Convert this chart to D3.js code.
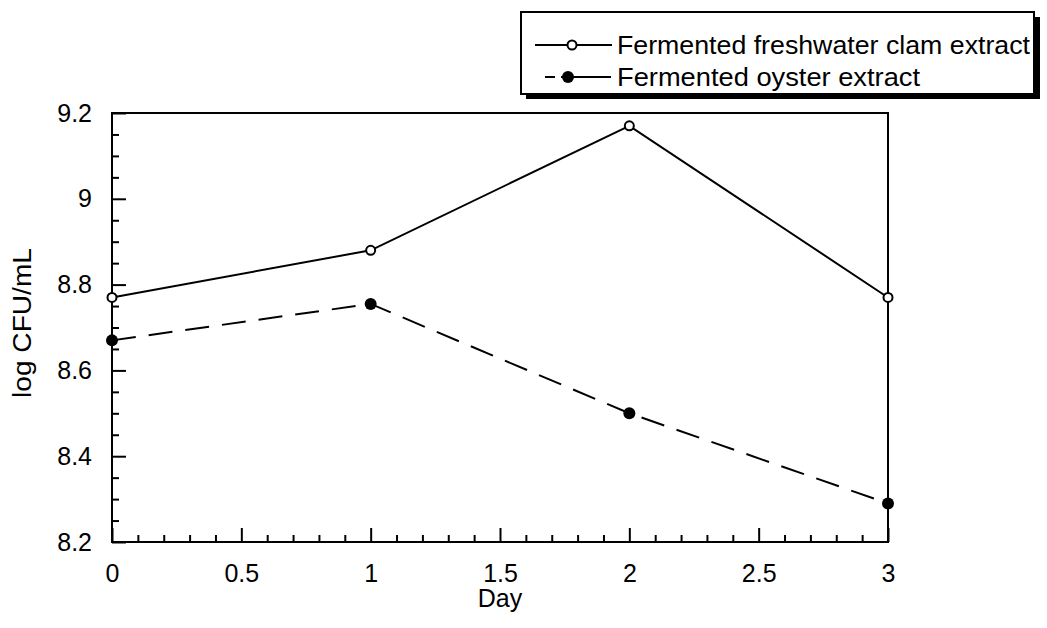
<!DOCTYPE html>
<html><head><meta charset="utf-8">
<script src="https://cdn.jsdelivr.net/npm/d3@7"></script>
<style>
html,body{margin:0;padding:0;background:#fff;}
text{font-family:"Liberation Sans",Arial,sans-serif;fill:#000;}
</style></head>
<body>
<svg id="chart" width="1047" height="628"></svg>
<script>
const days = [0, 1, 2, 3];
const clamValues = [8.77, 8.88, 9.17, 8.77];
const oysterValues = [8.67, 8.755, 8.50, 8.29];
const seriesNames = ["Fermented freshwater clam extract", "Fermented oyster extract"];
const xTicks = [0, 0.5, 1, 1.5, 2, 2.5, 3];
const xTickLabels = ["0", "0.5", "1", "1.5", "2", "2.5", "3"];
const yTicks = [8.2, 8.4, 8.6, 8.8, 9, 9.2];
const yTickLabels = ["8.2", "8.4", "8.6", "8.8", "9", "9.2"];
const xTitle = "Day";
const yTitle = "log CFU/mL";

const svg = d3.select("#chart");
const L = 112, R = 888, T = 113, B = 542;
const x = d3.scaleLinear().domain([0, 3]).range([L, R]);
const y = d3.scaleLinear().domain([8.2, 9.2]).range([B, T]);
const FS = 25;

// frame
svg.append("rect").attr("x", L).attr("y", T).attr("width", R - L).attr("height", B - T)
  .attr("fill", "none").attr("stroke", "#000").attr("stroke-width", 2);

// minor ticks
const xMinor = d3.range(0, 3.0001, 0.1).filter(v => Math.abs(v*2 - Math.round(v*2)) > 1e-6);
svg.append("g").attr("transform", `translate(0,${B})`)
  .call(d3.axisBottom(x).tickValues(xMinor).tickSize(-7).tickFormat(""))
  .call(g => g.select(".domain").remove())
  .selectAll("line").attr("stroke-width", 2);
const yMinor = d3.range(8.2, 9.2001, 0.05).filter(v => Math.abs(v*5 - Math.round(v*5)) > 1e-6);
svg.append("g").attr("transform", `translate(${L},0)`)
  .call(d3.axisLeft(y).tickValues(yMinor).tickSize(-7).tickFormat(""))
  .call(g => g.select(".domain").remove())
  .selectAll("line").attr("stroke-width", 2);

// major ticks
const xAxis = svg.append("g").attr("transform", `translate(0,${B})`)
  .call(d3.axisBottom(x).tickValues(xTicks).tickSize(-14).tickPadding(22)
    .tickFormat((d, i) => xTickLabels[i]));
xAxis.select(".domain").remove();
xAxis.selectAll("line").attr("stroke-width", 2);
xAxis.selectAll("text").attr("font-size", FS).attr("font-family", "Liberation Sans, Arial, sans-serif");

const yAxis = svg.append("g").attr("transform", `translate(${L},0)`)
  .call(d3.axisLeft(y).tickValues(yTicks).tickSize(-14).tickPadding(20)
    .tickFormat((d, i) => yTickLabels[i]));
yAxis.select(".domain").remove();
yAxis.selectAll("line").attr("stroke-width", 2);
yAxis.selectAll("text").attr("font-size", FS).attr("font-family", "Liberation Sans, Arial, sans-serif");

// titles
svg.append("text").attr("x", x(1.5)).attr("y", 607).attr("text-anchor", "middle")
  .attr("font-size", FS).text(xTitle);
svg.append("text").attr("transform", `translate(31,323) rotate(-90)`)
  .attr("text-anchor", "middle").attr("font-size", FS)
  .attr("textLength", 150).attr("lengthAdjust", "spacingAndGlyphs").text(yTitle);

// lines
const line = d3.line().x((d, i) => x(days[i])).y(d => y(d));
svg.append("path").datum(clamValues).attr("d", line)
  .attr("fill", "none").attr("stroke", "#000").attr("stroke-width", 2);
svg.append("path").datum(oysterValues).attr("d", line)
  .attr("fill", "none").attr("stroke", "#000").attr("stroke-width", 2)
  .attr("stroke-dasharray", "24,13");

svg.selectAll(".clamPt").data(clamValues).join("circle")
  .attr("cx", (d, i) => x(days[i])).attr("cy", d => y(d)).attr("r", 4.5)
  .attr("fill", "#fff").attr("stroke", "#000").attr("stroke-width", 2);
svg.selectAll(".oysPt").data(oysterValues).join("circle")
  .attr("cx", (d, i) => x(days[i])).attr("cy", d => y(d)).attr("r", 6)
  .attr("fill", "#000");

// legend
const lg = svg.append("g");
lg.append("rect").attr("x", 526).attr("y", 17).attr("width", 514).attr("height", 82).attr("fill", "#000");
lg.append("rect").attr("x", 521).attr("y", 12).attr("width", 513).attr("height", 82)
  .attr("fill", "#fff").attr("stroke", "#000").attr("stroke-width", 2);
const rows = [45, 77];
const textLens = [413, 303];
lg.append("line").attr("x1", 535).attr("x2", 612).attr("y1", rows[0]).attr("y2", rows[0])
  .attr("stroke", "#000").attr("stroke-width", 2);
lg.append("circle").attr("cx", 572).attr("cy", rows[0]).attr("r", 4.5)
  .attr("fill", "#fff").attr("stroke", "#000").attr("stroke-width", 2);
lg.append("line").attr("x1", 545).attr("x2", 612).attr("y1", rows[1]).attr("y2", rows[1])
  .attr("stroke", "#000").attr("stroke-width", 2).attr("stroke-dasharray", "10,6,50");
lg.append("circle").attr("cx", 568).attr("cy", rows[1]).attr("r", 6).attr("fill", "#000");
lg.selectAll(".lt").data(seriesNames).join("text")
  .attr("x", 617).attr("y", (d, i) => rows[i] + 9).attr("font-size", FS)
  .attr("textLength", (d, i) => textLens[i]).attr("lengthAdjust", "spacingAndGlyphs")
  .text(d => d);
</script>
</body></html>
